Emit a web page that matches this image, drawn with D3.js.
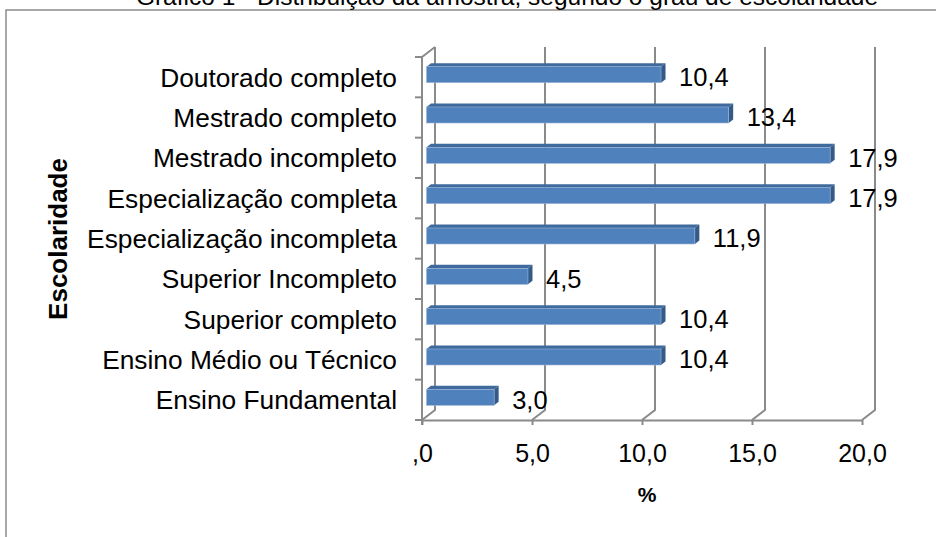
<!DOCTYPE html>
<html><head><meta charset="utf-8">
<script src="https://cdn.jsdelivr.net/npm/d3@7"></script>
<style>
html,body{margin:0;padding:0;background:#fff;}
svg{display:block;font-family:"Liberation Sans",Arial,sans-serif;}
</style></head>
<body><svg id="chart" width="936" height="537"></svg>
<script>
const title = "Gráfico 1 - Distribuição da amostra, segundo o grau de escolaridade";
const categories = ["Doutorado completo","Mestrado completo","Mestrado incompleto","Especialização completa","Especialização incompleta","Superior Incompleto","Superior completo","Ensino Médio ou Técnico","Ensino Fundamental"];
const values = [10.4,13.4,17.9,17.9,11.9,4.5,10.4,10.4,3.0];
const xTicks = [0,5,10,15,20];
const xTickLabels = [",0","5,0","10,0","15,0","20,0"];
const yTitle = "Escolaridade";
const xTitle = "%";

const svg = d3.select("#chart");
const gridColor = "#8a8a8a";
const depthX = 13, depthY = -10;       // wall depth offset
const barDX = 4.5, barDY = -3.5;       // bar depth
const fmt = v => d3.format(".1f")(v).replace(".", ",");

// frame
svg.append("path").attr("d","M6,537 L6,10 L936,10").attr("fill","none").attr("stroke","#8c8c8c").attr("stroke-width",1.5);

// title
svg.append("text").attr("x",507).attr("y",5).attr("text-anchor","middle").attr("font-size",24.5).attr("fill","#000").text(title);

const xFront = d3.scaleLinear().domain([0,20]).range([422,862]);
const xBar = d3.scaleLinear().domain([0,20]).range([426.5,877.5]);
const y = d3.scaleBand().domain(categories).range([57,420]).paddingInner(0).paddingOuter(0);
const floorY = 420, topY = 57;

const g = svg.append("g");
// back gridlines (vertical) + floor diagonals
xTicks.forEach(t=>{
  const fx = xFront(t);
  g.append("path").attr("d",`M${fx},${floorY} L${fx+depthX},${floorY+depthY} L${fx+depthX},${topY+depthY}`)
   .attr("fill","none").attr("stroke",gridColor).attr("stroke-width",2);
});
// left wall top diagonal
g.append("path").attr("d",`M${xFront(0)},${topY} L${xFront(0)+depthX},${topY+depthY}`).attr("fill","none").attr("stroke",gridColor).attr("stroke-width",2);
// front left axis line
g.append("line").attr("x1",xFront(0)).attr("x2",xFront(0)).attr("y1",topY).attr("y2",floorY+5).attr("stroke",gridColor).attr("stroke-width",2);
// left ticks at band boundaries
const bounds = categories.map(c=>y(c)).concat([floorY]);
bounds.forEach(b=>{
  g.append("line").attr("x1",xFront(0)-7).attr("x2",xFront(0)).attr("y1",b).attr("y2",b).attr("stroke",gridColor).attr("stroke-width",2);
});

// bottom axis
const xAxis = d3.axisBottom(xFront).tickValues(xTicks).tickFormat((d,i)=>xTickLabels[i]).tickSize(5).tickSizeOuter(0).tickPadding(19);
const ax = svg.append("g").attr("transform",`translate(0,${floorY})`).call(xAxis);
ax.select(".domain").attr("stroke",gridColor).attr("stroke-width",2);
ax.selectAll(".tick line").attr("stroke",gridColor).attr("stroke-width",2);
ax.selectAll(".tick text").attr("font-size",25).attr("fill","#000").attr("font-family","Liberation Sans, Arial, sans-serif");

// bars
const bars = svg.append("g");
categories.forEach((c,i)=>{
  const cy = y(c) + y.bandwidth()/2;
  const top = cy - 10.5, bot = cy + 5.5;
  const x0 = xBar(0), x1 = xBar(values[i]);
  bars.append("path").attr("d",`M${x0},${top} L${x0+barDX},${top+barDY} L${x1+barDX},${top+barDY} L${x1},${top} Z`).attr("fill","#3f6a9d");
  bars.append("path").attr("d",`M${x1},${top} L${x1+barDX},${top+barDY} L${x1+barDX},${bot+barDY} L${x1},${bot} Z`).attr("fill","#345a88");
  bars.append("rect").attr("x",x0).attr("y",top).attr("width",x1-x0).attr("height",bot-top).attr("fill","#4f81bd").attr("stroke","#9db5d8").attr("stroke-width",0.6);
  bars.append("text").attr("x",x1+18).attr("y",cy).attr("dy","0.35em").attr("font-size",25.5).attr("fill","#000").text(fmt(values[i]));
  svg.append("text").attr("x",397).attr("y",cy).attr("dy","0.36em").attr("text-anchor","end").attr("font-size",26.3).attr("fill","#000").text(c);
});

// axis titles
svg.append("text").attr("transform","translate(67,239) rotate(-90)").attr("text-anchor","middle").attr("font-size",26).attr("font-weight","bold").attr("fill","#000").text(yTitle);
svg.append("text").attr("x",647).attr("y",502).attr("text-anchor","middle").attr("font-size",21).attr("font-weight","bold").attr("fill","#000").text(xTitle);
</script></body></html>
